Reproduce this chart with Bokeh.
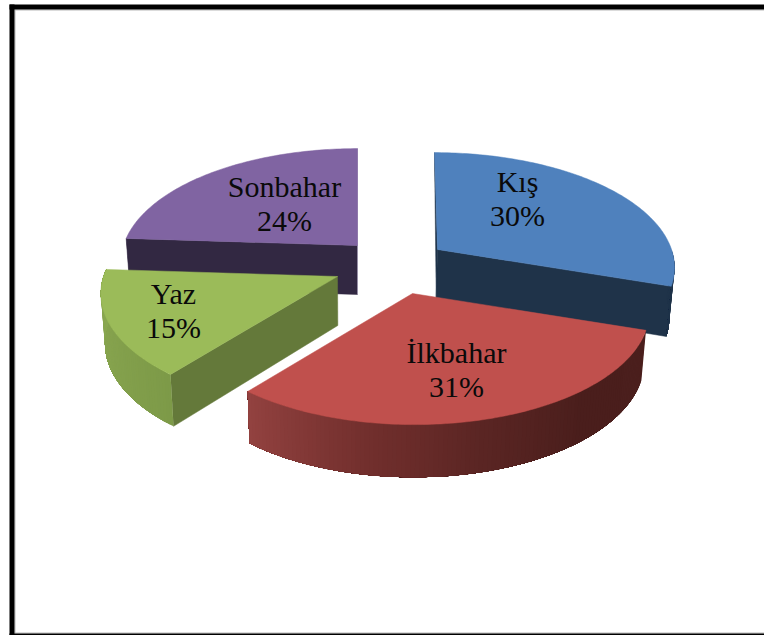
import math

from bokeh.core.properties import value
from bokeh.embed import file_html
from bokeh.models import ColumnDataSource, Range1d
from bokeh.plotting import figure
from bokeh.resources import INLINE

# Seasonal shares, clockwise from twelve o'clock
seasons = ["Kış", "İlkbahar", "Yaz", "Sonbahar"]
shares = [30, 31, 15, 24]

top_colors = ["#4f81bd", "#c0504d", "#9bbb59", "#8064a2"]
cut_colors = ["#1f3349", "#4a1e1c", "#64793a", "#322842"]
# Outer wall shading as (angle in degrees, colour) stops per slice
wall_stops = [
    [(90, "#1f3349"), (108, "#1f3349")],
    [(108, "#4b1f1d"), (140, "#4a1e1c"), (165, "#5a2523"), (190, "#722f2d"), (219.6, "#934240")],
    [(219.6, "#7d9a48"), (250, "#86a34e"), (273.6, "#8aa852")],
    [(270, "#322842"), (273.6, "#322842")],
]

# Pie layout on the page
APEX_X = [437, 412, 337, 357]
APEX_Y = [249, 293, 276, 245]
LABEL_X = [517, 456, 173, 284]
LABEL_Y = [181, 352, 293, 186]
LINE_GAP = 34
RADIUS_X = 234
RADIUS_Y = 114
DEPTH = 49
DEPTH_GROWTH = 0.5
PERSPECTIVE = 0.15
APEX_DRIFT = 0.25
VANISH_X = 357
BASE_SHRINK = 0.984
FONT_PX = "30px"


def project(i, theta, r=1.0, base=False):
    """Page position of a point on slice i at clock angle theta and radial fraction r."""
    t = math.radians(theta)
    fwd = -math.cos(t) * r
    s = 1 + PERSPECTIVE * fwd
    x = APEX_X[i] + RADIUS_X * r * math.sin(t) * s + (APEX_X[i] - VANISH_X) * (s - 1) * APEX_DRIFT
    y = APEX_Y[i] + RADIUS_Y * fwd * s
    if base:
        x = VANISH_X + (x - VANISH_X) * BASE_SHRINK
        y += DEPTH * (1 + DEPTH_GROWTH * (s - 1))
    return x, y


def arc(i, a0, a1, base=False, step=1.0):
    n = max(2, int(abs(a1 - a0) / step) + 1)
    return [project(i, a0 + (a1 - a0) * k / (n - 1), base=base) for k in range(n)]


def mix(c0, c1, f):
    ch0 = [int(c0[j:j + 2], 16) for j in (1, 3, 5)]
    ch1 = [int(c1[j:j + 2], 16) for j in (1, 3, 5)]
    return "#%02x%02x%02x" % tuple(round(a + (b - a) * f) for a, b in zip(ch0, ch1))


def wall_color(stops, theta):
    for (a0, c0), (a1, c1) in zip(stops, stops[1:]):
        if a0 <= theta <= a1:
            return mix(c0, c1, (theta - a0) / (a1 - a0))
    return stops[0][1] if theta < stops[0][0] else stops[-1][1]


p = figure(
    width=764, height=635, output_backend="svg", toolbar_location=None,
    x_range=Range1d(0, 764), y_range=Range1d(635, 0), min_border=0,
    outline_line_color=None, background_fill_color="white", border_fill_color="white",
)
p.axis.visible = False
p.grid.visible = False


def face(points, color, edge=True):
    xs, ys = zip(*points)
    p.patch(list(xs), list(ys), fill_color=color,
            line_color=color if edge else None, line_width=0.5)


# Slice start and end angles
angles = []
acc = 0.0
for v in shares:
    a0 = acc
    acc += v * 360 / sum(shares)
    angles.append((a0, acc))

# Back slices first so the nearer ones overlap them
for i in (3, 0, 2, 1):
    a0, a1 = angles[i]

    # Radial cut faces that turn toward the viewer
    if i == 0:
        face([project(i, a1, 0), project(i, a1), project(i, a1, base=True), project(i, a1, 0, True)], cut_colors[i])
        face([project(i, a0, 0), project(i, a0), project(i, a0, 0, True)], cut_colors[i])
    if i == 2:
        face([project(i, a0, 0), project(i, a0), project(i, a0, base=True), project(i, a0, 0, True)], cut_colors[i])
    if i == 3:
        face([project(i, a0, 0), project(i, a0), project(i, a0, base=True), project(i, a0, 0, True)], cut_colors[i])
        face([project(i, a1, 0), project(i, a1), project(i, a1, 0, True)], "#a9a0b8")

    # Outer wall: each strip runs on to the far end so no seams show between them
    lo, hi = max(a0, 90), min(a1, 274)
    if lo < hi:
        n = int(hi - lo) + 1
        for k in range(n):
            t0 = lo + (hi - lo) * k / n
            t1 = lo + (hi - lo) * (k + 1) / n
            outer = arc(i, t0, hi)
            lower = arc(i, t0, hi, base=True)
            face(outer + lower[::-1], wall_color(wall_stops[i], (t0 + t1) / 2), edge=False)

    # Top face
    face([project(i, a0, 0)] + arc(i, a0, a1), top_colors[i])

# Frame on the left, top and bottom edges
frame_black = dict(left=[9, 9, 9], right=[14, 764, 764], top=[4, 4, 633], bottom=[635, 9, 635])
frame_grey = dict(left=[14, 14, 14], right=[15, 764, 764], top=[9, 9, 632], bottom=[633, 10, 633])
p.quad(source=ColumnDataSource(frame_grey), left="left", right="right", top="top", bottom="bottom",
       fill_color="#b8b8b8", line_color=None)
p.quad(source=ColumnDataSource(frame_black), left="left", right="right", top="top", bottom="bottom",
       fill_color="#000000", line_color=None)

# Two-line labels: season name over its percentage
labels = ColumnDataSource(dict(
    x=LABEL_X + LABEL_X,
    y=LABEL_Y + [y + LINE_GAP for y in LABEL_Y],
    text=seasons + [f"{v}%" for v in shares],
))
p.text(source=labels, x="x", y="y", text="text", text_font=value("Liberation Serif"),
       text_font_size=value(FONT_PX), text_color="#0a0a0a", text_align="center", text_baseline="middle")

open("out.html", "w").write(file_html(p, INLINE))
